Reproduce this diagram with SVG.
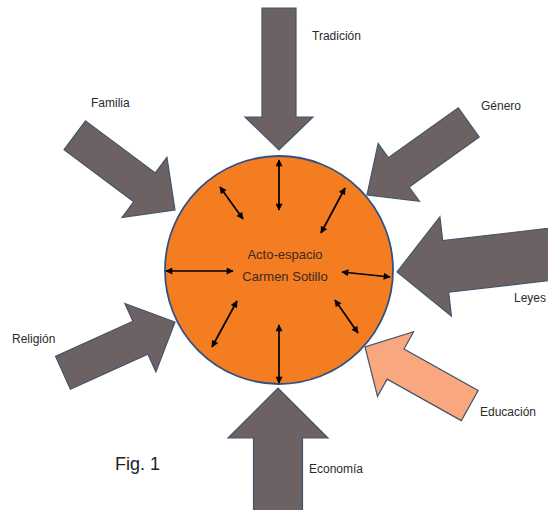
<svg xmlns="http://www.w3.org/2000/svg" width="548" height="510" viewBox="0 0 548 510">
<style>
.big{fill:#6c6264;stroke:#44546a;stroke-width:1.2;stroke-linejoin:miter}
.light{fill:#f9a77e;stroke:#44546a;stroke-width:1.2}
.lbl{font-family:"Liberation Sans",Arial,sans-serif;font-size:12px;fill:#2b2b2b}
.ctr{font-family:"Liberation Sans",Arial,sans-serif;font-size:13px;fill:#3b2a1f}
.dbl{stroke:#000;stroke-width:1.7;fill:none;marker-start:url(#ah);marker-end:url(#ah)}
</style>
<defs>
<marker id="ah" viewBox="0 0 10 10" refX="9" refY="5" markerWidth="8" markerHeight="7" markerUnits="userSpaceOnUse" orient="auto-start-reverse">
<path d="M0,0 L10,5 L0,10 z" fill="#000"/>
</marker>
</defs>
<rect width="548" height="510" fill="#fff"/>
<g id="tradicion">
<polygon class="big" transform="translate(279,150) rotate(90)" points="-142,-17 -33,-17 -33,-34 0,0 -33,34 -33,17 -142,17"/>
<text class="lbl" x="312" y="40">Tradición</text>
</g>
<g id="familia">
<polygon class="big" transform="translate(175,210) rotate(36.7)" points="-125,-18 -38,-18 -38,-37.5 0,0 -38,37.5 -38,18 -125,18"/>
<text class="lbl" x="91" y="107">Familia</text>
</g>
<g id="genero">
<polygon class="big" transform="translate(367,195) rotate(144.5)" points="-125,-18 -39,-18 -39,-35.5 0,0 -39,35.5 -39,18 -125,18"/>
<text class="lbl" x="481" y="110">Género</text>
</g>
<g id="leyes">
<polygon class="big" transform="translate(397,272) rotate(173.4)" points="-180,-26 -49,-26 -49,-50 0,0 -49,50 -49,26 -180,26"/>
<text class="lbl" x="514" y="302">Leyes</text>
</g>
<g id="religion">
<polygon class="big" transform="translate(175,322) rotate(-24.4)" points="-123,-18 -38,-18 -38,-37.5 0,0 -38,37.5 -38,18 -123,18"/>
<text class="lbl" x="12" y="343">Religión</text>
</g>
<g id="educacion">
<polygon class="light" transform="translate(365,347) rotate(209.2)" points="-120,-17.3 -35,-17.3 -35,-37 0,0 -35,37 -35,17.3 -120,17.3"/>
<text class="lbl" x="480" y="416">Educación</text>
</g>
<g id="economia">
<polygon class="big" transform="translate(278,388) rotate(-90)" points="-140,-24.5 -50,-24.5 -50,-50 0,0 -50,50 -50,24.5 -140,24.5"/>
<text class="lbl" x="309" y="473">Economía</text>
</g>
<g id="acto-espacio">
<circle cx="279" cy="270" r="114" fill="#f47c21" stroke="#2f5183" stroke-width="1.8"/>
<text class="ctr" x="285" y="259" text-anchor="middle">Acto-espacio</text>
<text class="ctr" x="285" y="281" text-anchor="middle">Carmen Sotillo</text>
</g>
<g id="connectors">
<line class="dbl" x1="279" y1="160" x2="279" y2="210"/>
<line class="dbl" x1="220" y1="187" x2="243" y2="219"/>
<line class="dbl" x1="345" y1="188" x2="321" y2="233"/>
<line class="dbl" x1="166" y1="271" x2="233" y2="271"/>
<line class="dbl" x1="342" y1="272" x2="390" y2="277"/>
<line class="dbl" x1="335" y1="300" x2="358" y2="333"/>
<line class="dbl" x1="237" y1="301" x2="212" y2="347"/>
<line class="dbl" x1="279" y1="325" x2="279" y2="383"/>
</g>
<text id="fig" x="115" y="470" font-family="Liberation Sans,Arial,sans-serif" font-size="18" fill="#222">Fig. 1</text>
</svg>
